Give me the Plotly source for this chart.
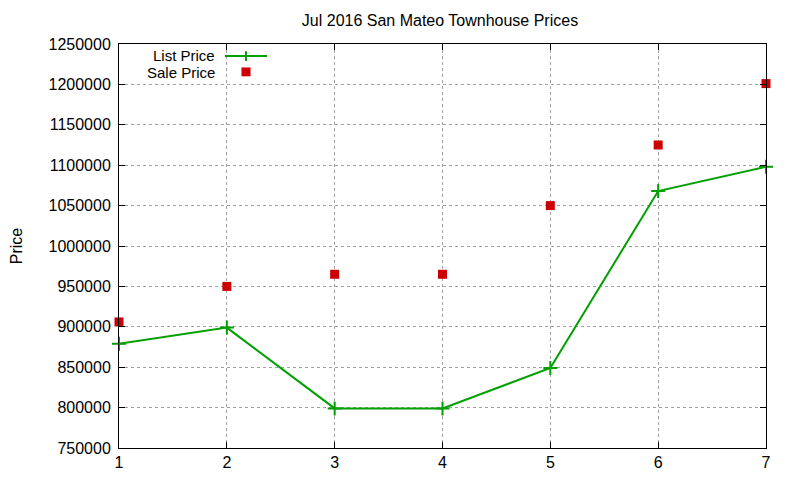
import plotly.graph_objects as go

months = [1, 2, 3, 4, 5, 6, 7]
list_price = [879000, 899000, 799000, 799000, 849000, 1068000, 1098000]
sale_price = [906000, 950000, 965000, 965000, 1050000, 1125000, 1201000]

green = "#00a000"
red = "#cc0000"
font = "Liberation Sans, Arial, sans-serif"

fig = go.Figure()
fig.add_trace(go.Scatter(
    x=months, y=list_price, name="List Price", mode="lines+markers",
    line=dict(color=green, width=2),
    marker=dict(symbol="cross-thin", size=10, line=dict(color=green, width=2)),
    cliponaxis=False, showlegend=False))
fig.add_trace(go.Scatter(
    x=months, y=sale_price, name="Sale Price", mode="markers",
    marker=dict(symbol="square", size=9, color=red),
    cliponaxis=False, showlegend=False))

axis_common = dict(showline=True, linecolor="black", linewidth=1, mirror="allticks",
                   ticks="inside", ticklen=6, tickcolor="black",
                   showgrid=True, gridcolor="#a0a0a0", griddash="dot", gridwidth=1,
                   zeroline=False, automargin=False,
                   tickfont=dict(family=font, size=16, color="black"))
fig.update_xaxes(range=[1, 7], dtick=1, **axis_common)
fig.update_yaxes(range=[750000, 1250000], dtick=50000, tickformat="d", ticklabelstandoff=4,
                 title=dict(text="Price", font=dict(family=font, size=16, color="black"), standoff=30),
                 **axis_common)

# gnuplot-style key: text on the left, sample on the right
key_font = dict(family=font, size=15, color="black")
fig.add_annotation(xref="paper", yref="paper", x=0.1515, y=0.971, text="List Price",
                   showarrow=False, xanchor="right", yanchor="middle", font=key_font)
fig.add_annotation(xref="paper", yref="paper", x=0.1515, y=0.929, text="Sale Price",
                   showarrow=False, xanchor="right", yanchor="middle", font=key_font)
fig.add_shape(type="line", xref="paper", yref="paper", x0=0.1638, x1=0.2287, y0=0.970, y1=0.970,
              line=dict(color=green, width=2))
fig.add_shape(type="line", xref="paper", yref="paper", x0=0.1963, x1=0.1963, y0=0.958, y1=0.982,
              line=dict(color=green, width=2))
fig.add_shape(type="rect", xref="paper", yref="paper", x0=0.1893, x1=0.2033, y0=0.920, y1=0.942,
              line=dict(width=0), fillcolor=red)

# page body adds an 8px offset, so margins are trimmed to land the frame where the reference has it
fig.update_layout(
    width=800, height=480,
    margin=dict(l=111, r=42, t=36, b=40),
    paper_bgcolor="white", plot_bgcolor="white",
    title=dict(text="Jul 2016 San Mateo Townhouse Prices", x=0.54, xanchor="center",
               y=0.975, yanchor="middle", font=dict(family=font, size=16, color="black")),
)

fig.write_html("out.html")
